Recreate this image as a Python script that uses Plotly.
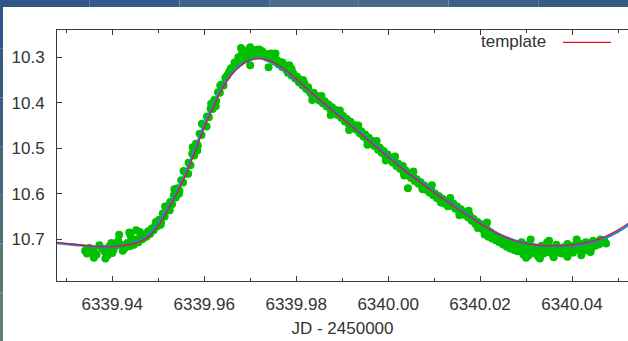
import plotly.graph_objects as go

# ---------------- data ----------------
# observed photometry: JD - 2450000 and magnitude
obs_jd = [
    6339.9341, 6339.9345, 6339.9350, 6339.9354, 6339.9360, 6339.9366, 6339.9372, 6339.9378,
    6339.9384, 6339.9390, 6339.9393, 6339.9398, 6339.9403, 6339.9408, 6339.9413, 6339.9418,
    6339.9423, 6339.9428, 6339.9433, 6339.9438, 6339.9443, 6339.9447, 6339.9452, 6339.9457,
    6339.9461, 6339.9466, 6339.9470, 6339.9474, 6339.9478, 6339.9482, 6339.9486, 6339.9490,
    6339.9494, 6339.9498, 6339.9502, 6339.9506, 6339.9510, 6339.9514, 6339.9518, 6339.9522,
    6339.9526, 6339.9530, 6339.9534, 6339.9538, 6339.9542, 6339.9546, 6339.9550, 6339.9554,
    6339.9558, 6339.9562, 6339.9566, 6339.9570, 6339.9574, 6339.9578, 6339.9582, 6339.9586,
    6339.9590, 6339.9594, 6339.9598, 6339.9602, 6339.9606, 6339.9610, 6339.9614, 6339.9618,
    6339.9622, 6339.9626, 6339.9630, 6339.9634, 6339.9638, 6339.9642, 6339.9646, 6339.9650,
    6339.9654, 6339.9658, 6339.9662, 6339.9666, 6339.9670, 6339.9674, 6339.9678, 6339.9682,
    6339.9686, 6339.9690, 6339.9694, 6339.9698, 6339.9702, 6339.9706, 6339.9710, 6339.9714,
    6339.9718, 6339.9722, 6339.9726, 6339.9730, 6339.9734, 6339.9738, 6339.9742, 6339.9746,
    6339.9750, 6339.9754, 6339.9758, 6339.9762, 6339.9766, 6339.9770, 6339.9774, 6339.9778,
    6339.9782, 6339.9786, 6339.9790, 6339.9794, 6339.9798, 6339.9802, 6339.9806, 6339.9810,
    6339.9814, 6339.9818, 6339.9822, 6339.9826, 6339.9830, 6339.9834, 6339.9838, 6339.9842,
    6339.9846, 6339.9850, 6339.9854, 6339.9858, 6339.9862, 6339.9866, 6339.9870, 6339.9874,
    6339.9878, 6339.9882, 6339.9886, 6339.9890, 6339.9894, 6339.9898, 6339.9902, 6339.9906,
    6339.9910, 6339.9914, 6339.9918, 6339.9922, 6339.9926, 6339.9930, 6339.9934, 6339.9938,
    6339.9942, 6339.9946, 6339.9950, 6339.9954, 6339.9958, 6339.9962, 6339.9966, 6339.9970,
    6339.9974, 6339.9978, 6339.9982, 6339.9986, 6339.9990, 6339.9994, 6339.9998, 6340.0002,
    6340.0006, 6340.0010, 6340.0014, 6340.0018, 6340.0022, 6340.0026, 6340.0030, 6340.0034,
    6340.0038, 6340.0042, 6340.0046, 6340.0050, 6340.0054, 6340.0058, 6340.0062, 6340.0066,
    6340.0070, 6340.0074, 6340.0078, 6340.0082, 6340.0086, 6340.0090, 6340.0094, 6340.0098,
    6340.0102, 6340.0106, 6340.0110, 6340.0114, 6340.0118, 6340.0122, 6340.0126, 6340.0130,
    6340.0134, 6340.0138, 6340.0142, 6340.0146, 6340.0150, 6340.0154, 6340.0158, 6340.0162,
    6340.0166, 6340.0170, 6340.0174, 6340.0178, 6340.0182, 6340.0186, 6340.0190, 6340.0194,
    6340.0198, 6340.0202, 6340.0206, 6340.0210, 6340.0214, 6340.0218, 6340.0222, 6340.0226,
    6340.0230, 6340.0234, 6340.0238, 6340.0242, 6340.0246, 6340.0250, 6340.0254, 6340.0258,
    6340.0262, 6340.0266, 6340.0270, 6340.0274, 6340.0278, 6340.0282, 6340.0286, 6340.0290,
    6340.0294, 6340.0298, 6340.0302, 6340.0306, 6340.0310, 6340.0314, 6340.0318, 6340.0322,
    6340.0326, 6340.0330, 6340.0334, 6340.0338, 6340.0342, 6340.0346, 6340.0350, 6340.0354,
    6340.0358, 6340.0362, 6340.0366, 6340.0370, 6340.0374, 6340.0378, 6340.0382, 6340.0386,
    6340.0390, 6340.0394, 6340.0398, 6340.0402, 6340.0406, 6340.0410, 6340.0414, 6340.0418,
    6340.0422, 6340.0426, 6340.0430, 6340.0434, 6340.0438, 6340.0442, 6340.0446, 6340.0450,
    6340.0454, 6340.0458, 6340.0462, 6340.0466, 6340.0470, 6340.0474,
    6339.9415, 6339.9437, 6339.9452, 6340.0043, 6340.0032, 6339.9785, 6339.9755,
    # broader scatter
    6339.9495, 6339.9515, 6339.9535, 6339.9555, 6339.9575, 6339.9595, 6339.9615, 6339.9635,
    6339.9655, 6339.9505, 6339.9525, 6339.9545, 6339.9565, 6339.9585, 6339.9605, 6339.9625,
    6339.9680, 6339.9700, 6339.9720, 6339.9745, 6339.9770, 6339.9790, 6339.9700, 6339.9740,
    6339.9815, 6339.9835, 6339.9855, 6339.9875, 6339.9895, 6339.9915, 6339.9935, 6339.9955,
    6339.9975, 6339.9995, 6340.0015, 6340.0035, 6340.0055, 6340.0075, 6340.0095, 6340.0115,
    6340.0135, 6340.0155, 6340.0175, 6340.0195, 6340.0215, 6340.0235,
    6340.0300, 6340.0330, 6340.0360, 6340.0390, 6340.0420, 6340.0440, 6340.0310, 6340.0350,
    6340.0410, 6339.9360, 6339.9385, 6339.9400, 6339.9440, 6339.9460,
]
obs_mag = [
    10.725, 10.731, 10.719, 10.728, 10.722, 10.733, 10.713, 10.720,
    10.727, 10.735, 10.716, 10.708, 10.722, 10.714, 10.703, 10.711,
    10.725, 10.719, 10.708, 10.715, 10.702, 10.712, 10.700, 10.706,
    10.695, 10.699, 10.690, 10.694, 10.682, 10.688, 10.676, 10.680,
    10.668, 10.671, 10.657, 10.663, 10.643, 10.650, 10.632, 10.636,
    10.618, 10.623, 10.603, 10.608, 10.588, 10.593, 10.570, 10.575,
    10.552, 10.556, 10.532, 10.537, 10.512, 10.516, 10.490, 10.494,
    10.468, 10.471, 10.448, 10.450, 10.430, 10.432, 10.413, 10.414,
    10.394, 10.396, 10.377, 10.378, 10.360, 10.362, 10.345, 10.340,
    10.333, 10.325, 10.322, 10.312, 10.316, 10.300, 10.308, 10.293,
    10.303, 10.286, 10.298, 10.290, 10.283, 10.295, 10.289, 10.284,
    10.296, 10.291, 10.287, 10.298, 10.293, 10.302, 10.296, 10.305,
    10.301, 10.310, 10.306, 10.316, 10.311, 10.322, 10.318, 10.327,
    10.334, 10.330, 10.340, 10.336, 10.347, 10.343, 10.355, 10.351,
    10.362, 10.358, 10.370, 10.366, 10.377, 10.382, 10.378, 10.389,
    10.385, 10.395, 10.391, 10.401, 10.397, 10.408, 10.404, 10.414,
    10.410, 10.420, 10.416, 10.427, 10.423, 10.433, 10.429, 10.441,
    10.436, 10.446, 10.442, 10.454, 10.449, 10.459, 10.455, 10.467,
    10.463, 10.474, 10.470, 10.481, 10.477, 10.489, 10.484, 10.495,
    10.491, 10.503, 10.499, 10.510, 10.506, 10.517, 10.513, 10.524,
    10.520, 10.531, 10.527, 10.539, 10.534, 10.545, 10.541, 10.553,
    10.549, 10.559, 10.555, 10.565, 10.561, 10.572, 10.568, 10.578,
    10.574, 10.585, 10.581, 10.591, 10.587, 10.597, 10.593, 10.603,
    10.599, 10.609, 10.605, 10.615, 10.611, 10.621, 10.617, 10.627,
    10.623, 10.626, 10.622, 10.632, 10.628, 10.638, 10.634, 10.640,
    10.646, 10.641, 10.652, 10.648, 10.659, 10.655, 10.666, 10.661,
    10.672, 10.667, 10.678, 10.689, 10.676, 10.694, 10.684, 10.698,
    10.690, 10.702, 10.695, 10.706, 10.699, 10.711, 10.703, 10.716,
    10.706, 10.720, 10.708, 10.723, 10.711, 10.726, 10.714, 10.706,
    10.733, 10.722, 10.712, 10.735, 10.724, 10.716, 10.730, 10.720,
    10.737, 10.726, 10.714, 10.731, 10.722, 10.706, 10.728, 10.719,
    10.733, 10.724, 10.712, 10.729, 10.720, 10.731, 10.717, 10.726,
    10.710, 10.723, 10.716, 10.729, 10.713, 10.722, 10.708, 10.719,
    10.712, 10.725, 10.706, 10.717, 10.709, 10.720, 10.703, 10.714,
    10.706, 10.711, 10.700, 10.707, 10.702, 10.709,
    10.690, 10.685, 10.680, 10.588, 10.539, 10.318, 10.292,
    # broader scatter
    10.662, 10.628, 10.590, 10.550, 10.498, 10.446, 10.402, 10.362,
    10.331, 10.668, 10.636, 10.600, 10.556, 10.505, 10.452, 10.408,
    10.280, 10.278, 10.283, 10.292, 10.312, 10.326, 10.318, 10.322,
    10.350, 10.394, 10.385, 10.427, 10.417, 10.460, 10.450, 10.492,
    10.484, 10.527, 10.518, 10.560, 10.551, 10.590, 10.581, 10.619,
    10.609, 10.647, 10.637, 10.675, 10.663, 10.698,
    10.740, 10.742, 10.739, 10.738, 10.735, 10.728, 10.700, 10.703,
    10.700, 10.740, 10.742, 10.730, 10.692, 10.684,
]

# fitted model (blue) and template (red) light curves
model_jd = [
    6339.926, 6339.928, 6339.930, 6339.932, 6339.934, 6339.936, 6339.938, 6339.940,
    6339.942, 6339.944, 6339.946, 6339.948, 6339.950, 6339.952, 6339.954, 6339.956,
    6339.958, 6339.960, 6339.962, 6339.964, 6339.966, 6339.968, 6339.970, 6339.972,
    6339.974, 6339.976, 6339.978, 6339.980, 6339.982, 6339.984, 6339.986, 6339.988,
    6339.990, 6339.992, 6339.994, 6339.996, 6339.998, 6340.000, 6340.002, 6340.004,
    6340.006, 6340.008, 6340.010, 6340.012, 6340.014, 6340.016, 6340.018, 6340.020,
    6340.022, 6340.024, 6340.026, 6340.028, 6340.030, 6340.032, 6340.034, 6340.036,
    6340.038, 6340.040, 6340.042, 6340.044, 6340.046, 6340.048, 6340.050, 6340.052,
    6340.054,
]
model_mag = [
    10.706, 10.708, 10.710, 10.712, 10.714, 10.716, 10.717, 10.716,
    10.714, 10.710, 10.703, 10.690, 10.665, 10.632, 10.596, 10.553,
    10.502, 10.449, 10.405, 10.364, 10.336, 10.317, 10.306, 10.302,
    10.308, 10.319, 10.333, 10.350, 10.367, 10.385, 10.401, 10.417,
    10.433, 10.450, 10.466, 10.483, 10.500, 10.517, 10.534, 10.551,
    10.566, 10.581, 10.596, 10.610, 10.623, 10.637, 10.651, 10.664,
    10.677, 10.688, 10.697, 10.704, 10.709, 10.712, 10.714, 10.715,
    10.715, 10.714, 10.711, 10.707, 10.701, 10.693, 10.683, 10.670,
    10.655,
]
template_mag = [
    10.705, 10.707, 10.709, 10.711, 10.713, 10.715, 10.716, 10.716,
    10.714, 10.711, 10.705, 10.693, 10.670, 10.637, 10.600, 10.558,
    10.507, 10.455, 10.409, 10.368, 10.338, 10.318, 10.307, 10.303,
    10.307, 10.317, 10.331, 10.348, 10.366, 10.384, 10.401, 10.418,
    10.434, 10.451, 10.468, 10.485, 10.502, 10.519, 10.536, 10.552,
    10.567, 10.582, 10.597, 10.611, 10.625, 10.639, 10.652, 10.665,
    10.677, 10.688, 10.697, 10.704, 10.709, 10.712, 10.714, 10.714,
    10.714, 10.712, 10.709, 10.705, 10.699, 10.690, 10.679, 10.666,
    10.650,
]

x_ticks = [6339.94, 6339.96, 6339.98, 6340.00, 6340.02, 6340.04]
x_tick_labels = ["6339.94", "6339.96", "6339.98", "6340.00", "6340.02", "6340.04"]
y_ticks = [10.3, 10.4, 10.5, 10.6, 10.7]
y_tick_labels = ["10.3", "10.4", "10.5", "10.6", "10.7"]

# ---------------- figure ----------------
W, H = 628, 341
ML, MR, MT, MB = 57, 0, 30, 60
PW, PH = W - ML - MR, H - MT - MB


def px(p):  # pixel x -> paper x
    return (p - ML) / PW


def py(p):  # pixel y (from top) -> paper y
    return (H - MB - p) / PH


FONT = "Liberation Sans, Arial, sans-serif"
TXT = "#333333"
AX = "#3a3a3a"

fig = go.Figure()
fig.add_trace(go.Scatter(
    x=obs_jd, y=obs_mag, mode="markers",
    marker=dict(symbol="circle", size=8, color="#00c000", line=dict(width=0)),
    showlegend=False, hoverinfo="skip"))
fig.add_trace(go.Scatter(
    x=model_jd, y=model_mag, mode="lines", line=dict(color="#2a84d6", width=2.6, shape="spline"),
    showlegend=False, hoverinfo="skip"))
fig.add_trace(go.Scatter(
    x=model_jd, y=template_mag, mode="lines", name="template",
    line=dict(color="#e8101a", width=1.1, shape="spline"),
    showlegend=False, hoverinfo="skip"))

shapes = []
# window chrome: top band and left band
top_cols = ["#2f5686", "#335a88", "#3f6489", "#4b6c8b", "#46688a", "#3a6085", "#355c82"]
n = len(top_cols)
for i, c in enumerate(top_cols):
    shapes.append(dict(type="rect", xref="paper", yref="paper",
                       x0=px(W * i / n), x1=px(W * (i + 1) / n), y0=py(7), y1=py(0),
                       fillcolor=c, line=dict(width=0), layer="above"))
left_cols = ["#2f5686", "#345a83", "#3b607f", "#43677b", "#4d6f77", "#587872", "#62806e"]
n = len(left_cols)
for i, c in enumerate(left_cols):
    shapes.append(dict(type="rect", xref="paper", yref="paper",
                       x0=px(0), x1=px(3), y0=py(H * (i + 1) / n), y1=py(H * i / n),
                       fillcolor=c, line=dict(width=0), layer="above"))
# legend sample line
shapes.append(dict(type="line", xref="paper", yref="paper",
                   x0=px(563), x1=px(611), y0=py(42.3), y1=py(42.3),
                   line=dict(color="#e8101a", width=1.3)))

fig.update_layout(
    width=W, height=H,
    margin=dict(l=ML, r=MR, t=MT, b=MB, pad=0),
    paper_bgcolor="white", plot_bgcolor="white",
    font=dict(family=FONT, size=17, color=TXT),
    shapes=shapes,
    annotations=[dict(text="template", xref="paper", yref="paper",
                      x=px(548), y=py(42), xanchor="right", yanchor="middle",
                      showarrow=False, font=dict(family=FONT, size=17, color=TXT))],
    xaxis=dict(range=[6339.92798, 6340.05217], tickvals=x_ticks, ticktext=x_tick_labels,
               showgrid=False, zeroline=False, showline=True, linecolor=AX, linewidth=1,
               mirror="ticks", ticks="inside", ticklen=5, tickcolor=AX, tickwidth=1,
               minor=dict(dtick=0.01, tick0=6339.93, ticks="inside", ticklen=3,
                          tickcolor=AX, showgrid=False),
               ticklabelstandoff=8,
               title=dict(text="JD - 2450000", standoff=8,
                          font=dict(family=FONT, size=17, color=TXT))),
    yaxis=dict(range=[10.7913, 10.2404], tickvals=y_ticks, ticktext=y_tick_labels,
               showgrid=False, zeroline=False, showline=True, linecolor=AX, linewidth=1,
               mirror=False, ticks="inside", ticklen=5, tickcolor=AX, tickwidth=1,
               ticklabelstandoff=8),
)

fig.write_html("out.html")
